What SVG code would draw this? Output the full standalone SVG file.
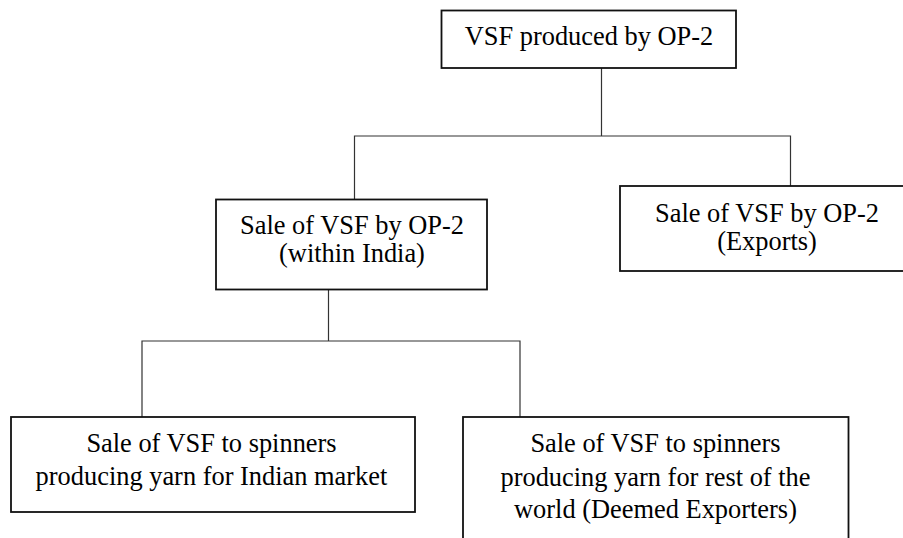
<svg xmlns="http://www.w3.org/2000/svg" width="903" height="538" viewBox="0 0 903 538">
<style>
.box{fill:#fff;stroke:#111;stroke-width:1.8}
.lbl{font-family:"Liberation Serif","Times New Roman",serif;font-size:26.4px;fill:#000;text-anchor:middle}
.conn{fill:none;stroke:#333;stroke-width:1.2}
</style>
<rect width="903" height="538" fill="#fff"/>
<g id="connectors">
<path class="conn" d="M601.5,68 V136 M354.5,199.5 V136 H790.5 V186"/>
<path class="conn" d="M328.5,290 V341 M142,417 V341 H520 V417"/>
</g>
<g id="n-top">
<rect class="box" x="441.5" y="10.5" width="294.5" height="57.5"/>
<text class="lbl" x="589" y="45">VSF produced by OP-2</text>
</g>
<g id="n-india">
<rect class="box" x="216" y="199.5" width="271" height="90"/>
<text class="lbl" x="352" y="234">Sale of VSF by OP-2</text>
<text class="lbl" x="352" y="261.5">(within India)</text>
</g>
<g id="n-exports">
<rect class="box" x="620" y="186" width="294" height="85"/>
<text class="lbl" x="767" y="221.5">Sale of VSF by OP-2</text>
<text class="lbl" x="767" y="250">(Exports)</text>
</g>
<g id="n-indian-market">
<rect class="box" x="11" y="417" width="404" height="95"/>
<text class="lbl" x="211.5" y="451.5">Sale of VSF to spinners</text>
<text class="lbl" x="211.5" y="485">producing yarn for Indian market</text>
</g>
<g id="n-deemed">
<rect class="box" x="463" y="417" width="385.5" height="130"/>
<text class="lbl" x="655.5" y="451.5">Sale of VSF to spinners</text>
<text class="lbl" x="655.5" y="485.5">producing yarn for rest of the</text>
<text class="lbl" x="655.5" y="518">world (Deemed Exporters)</text>
</g>
</svg>
